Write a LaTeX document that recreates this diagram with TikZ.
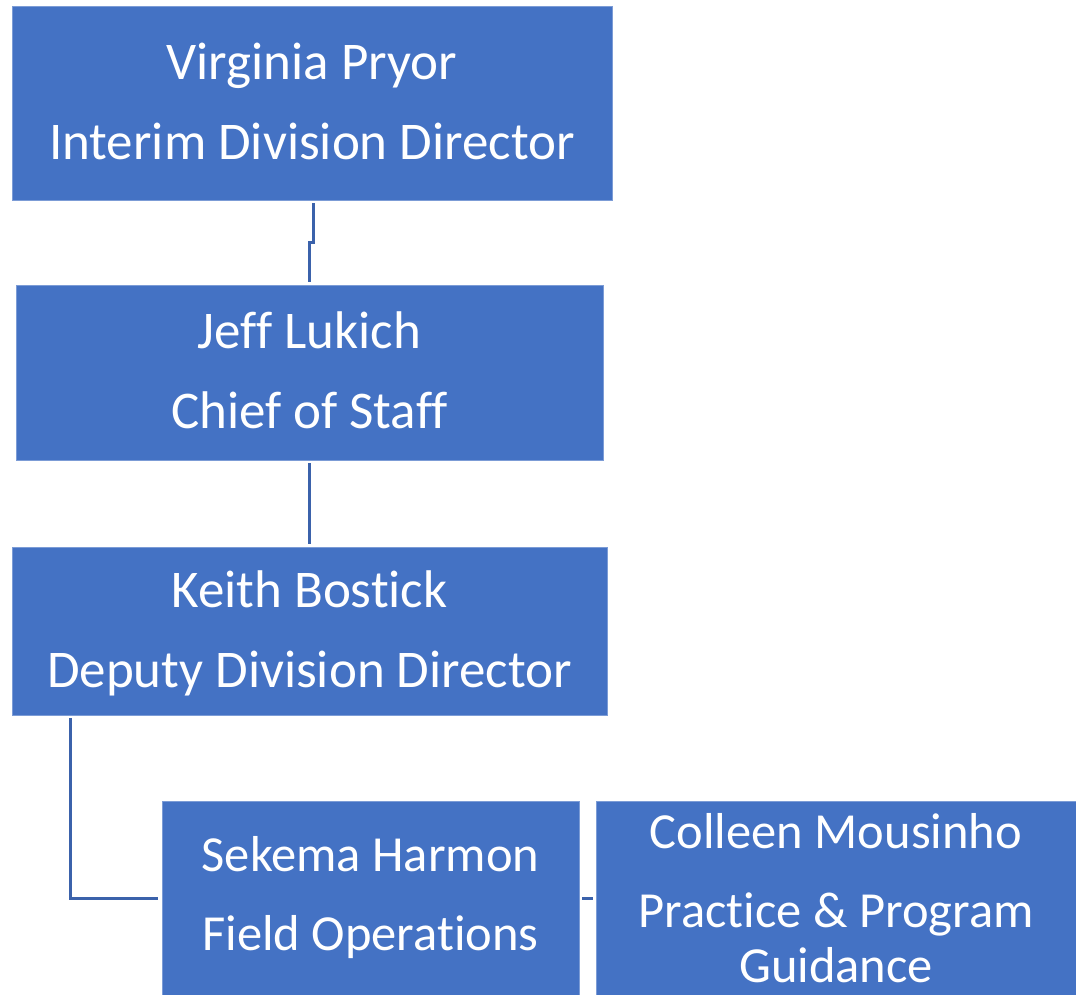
\documentclass[tikz,border=0pt]{standalone}
\usepackage{fontspec}
\setmainfont{Carlito}[Ligatures={NoCommon}]
\definecolor{boxblue}{HTML}{4472C4}
\definecolor{linkblue}{HTML}{3B62AB}
\begin{document}
\begin{tikzpicture}[x=1pt,y=-1pt,
  orgbox/.style={rectangle, fill=boxblue, draw=boxblue!70!white, line width=0.8pt, text=white,
    align=center, inner sep=0pt, font=\fontsize{53}{55}\selectfont},
  lowbox/.style={orgbox, font=\fontsize{50.5}{55}\selectfont},
  link/.style={draw=linkblue, line width=3pt}]
\useasboundingbox (0,0) rectangle (1076,995);
\node[orgbox, minimum width=600pt, minimum height=194pt, text depth=4pt] (vp) at (312,103)
  {Virginia Pryor\\[25pt]Interim Division Director};
\node[orgbox, minimum width=587pt, minimum height=175pt, text depth=4pt] (jl) at (309.5,372.5)
  {Jeff Lukich\\[25pt]Chief of Staff};
\node[orgbox, minimum width=595pt, minimum height=168pt, text depth=4pt] (kb) at (309.5,631)
  {Keith Bostick\\[25pt]Deputy Division Director};
\node[lowbox, minimum width=417pt, minimum height=194pt] (sh) at (370.5,898)
  {Sekema Harmon\\[24pt]Field Operations};
\node[lowbox, minimum width=480pt, minimum height=194pt] (cm) at (836,898)
  {Colleen Mousinho\\[24pt]Practice \& Program\\Guidance};
\coordinate (a1) at (313,242);
\coordinate (a2) at (309,242);
\coordinate (b1) at (70,898);
\draw[link] ([yshift=-3pt]vp.south -| a1) -- (a1) -- (a2) -- ([yshift=3pt]jl.north -| a2);
\draw[link] ([yshift=-3pt]jl.south) -- ([yshift=3pt]kb.north);
\draw[link] ([yshift=-3pt]kb.south -| b1) -- (b1) -- ([xshift=-4pt]sh.west);
\draw[link] ([xshift=3pt]sh.east) -- ([xshift=-3pt]cm.west);
\end{tikzpicture}
\end{document}
